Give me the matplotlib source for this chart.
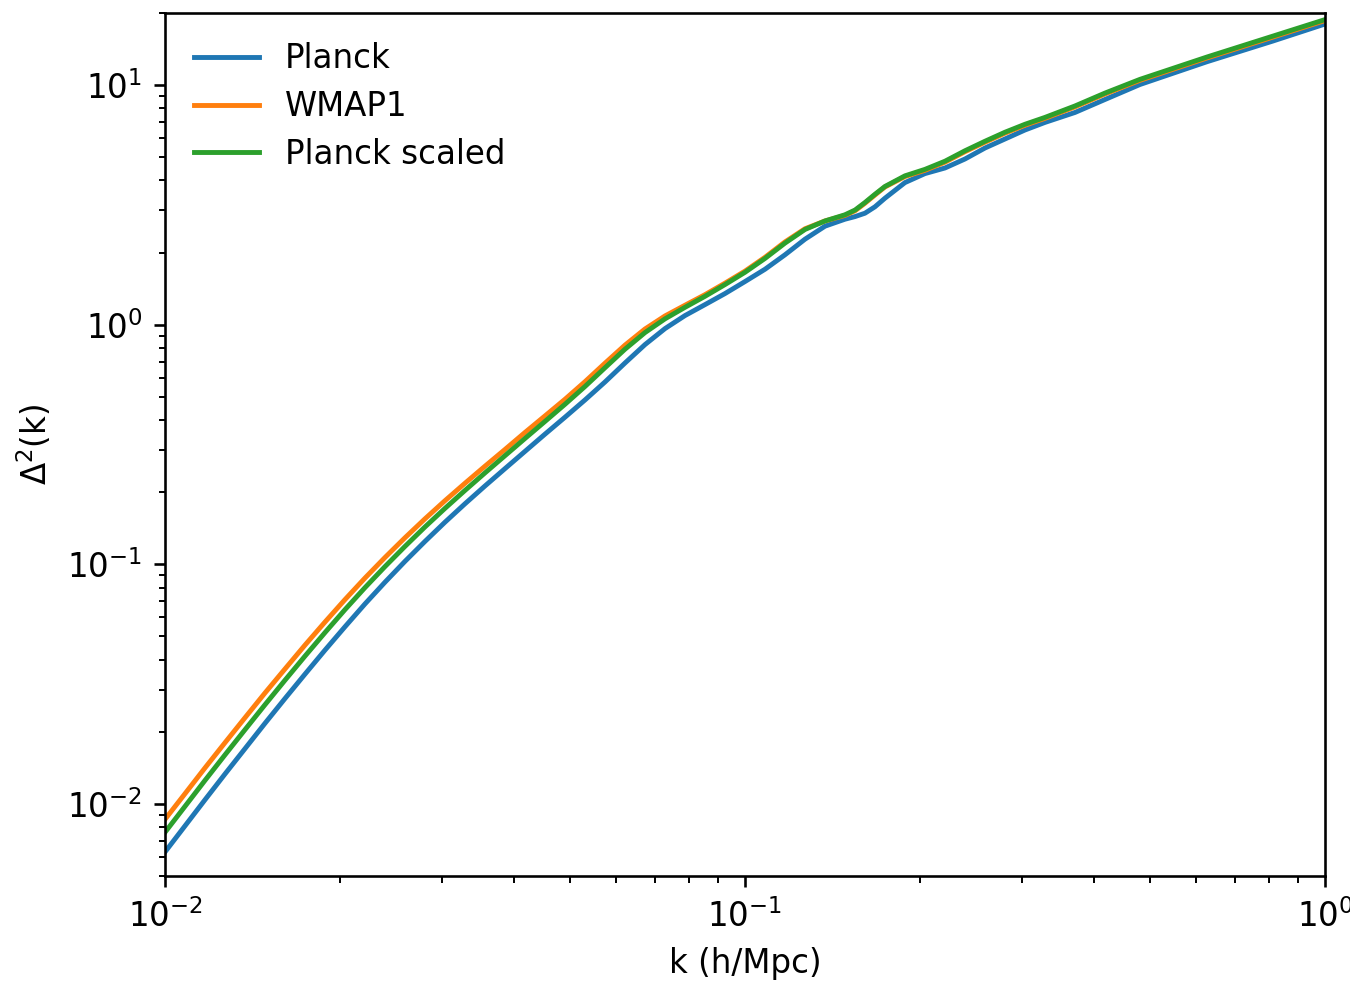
import numpy as np
import matplotlib
matplotlib.use('Agg')
import matplotlib.pyplot as plt

k = [0.01000, 0.01083, 0.01172, 0.01269, 0.01374, 0.01487, 0.01610, 0.01743, 0.01887, 0.02043,
     0.02212, 0.02395, 0.02593, 0.02807, 0.03039, 0.03290, 0.03562, 0.03857, 0.04175, 0.04520,
     0.04894, 0.05298, 0.05736, 0.06210, 0.06723, 0.07279, 0.07881, 0.08532, 0.09237, 0.1000,
     0.1083, 0.1172, 0.1269, 0.1374, 0.1487, 0.1548, 0.1610, 0.1675, 0.1743, 0.1887, 0.2043,
     0.2212, 0.2395, 0.2593, 0.2807, 0.3039, 0.3290, 0.3707, 0.4175, 0.4797, 0.6258, 0.8134, 1.0]

planck = [0.006298, 0.008102, 0.01040, 0.01333, 0.01701, 0.02168, 0.02752, 0.03478, 0.04381, 0.05485,
          0.06833, 0.08421, 0.1029, 0.1246, 0.1499, 0.1789, 0.2123, 0.2509, 0.2960, 0.3493,
          0.4111, 0.4852, 0.5767, 0.6921, 0.8260, 0.9634, 1.092, 1.213, 1.349, 1.514,
          1.705, 1.958, 2.275, 2.578, 2.756, 2.827, 2.920, 3.105, 3.373, 3.919, 4.273,
          4.510, 4.917, 5.465, 5.959, 6.497, 6.988, 7.691, 8.710, 10.06, 12.52, 15.28, 17.99]

wmap1 = [0.008616, 0.01104, 0.01413, 0.01801, 0.02290, 0.02902, 0.03656, 0.04598, 0.05739, 0.07122,
         0.08764, 0.1068, 0.1291, 0.1548, 0.1843, 0.2179, 0.2567, 0.3016, 0.3550, 0.4162,
         0.4885, 0.5783, 0.6909, 0.8219, 0.9596, 1.088, 1.206, 1.335, 1.491, 1.674,
         1.913, 2.216, 2.515, 2.711, 2.859, 2.990, 3.214, 3.478, 3.758, 4.152, 4.409,
         4.768, 5.274, 5.777, 6.300, 6.800, 7.266, 8.112, 9.179, 10.47, 12.98, 15.87, 18.60]

planck_scaled = [0.007608, 0.009775, 0.01253, 0.01602, 0.02041, 0.02592, 0.03281, 0.04136, 0.05186, 0.06466,
                 0.07993, 0.09784, 0.1188, 0.1432, 0.1712, 0.2034, 0.2407, 0.2841, 0.3351, 0.3947,
                 0.4655, 0.5522, 0.6613, 0.7903, 0.9271, 1.058, 1.182, 1.314, 1.471, 1.655,
                 1.892, 2.191, 2.498, 2.711, 2.876, 3.011, 3.236, 3.502, 3.776, 4.182, 4.450,
                 4.813, 5.322, 5.831, 6.359, 6.864, 7.333, 8.187, 9.264, 10.57, 13.10, 16.02, 18.77]

dpi = 234
fig = plt.figure(figsize=(1350 / dpi, 982 / dpi), dpi=dpi)
ax = fig.add_axes([0.12222, 0.10794, 0.85926, 0.87882])

ax.plot(k, planck, label='Planck')
ax.plot(k, wmap1, label='WMAP1')
ax.plot(k, planck_scaled, label='Planck scaled')

ax.set_xscale('log')
ax.set_yscale('log')
ax.set_xlim(0.01, 1)
ax.set_ylim(0.005, 20)
ax.set_xlabel('k (h/Mpc)')
ax.set_ylabel(r'$\Delta^2$(k)')
ax.legend(loc='upper left', frameon=False, labelspacing=0.45)

fig.savefig('out.png', dpi=dpi)
